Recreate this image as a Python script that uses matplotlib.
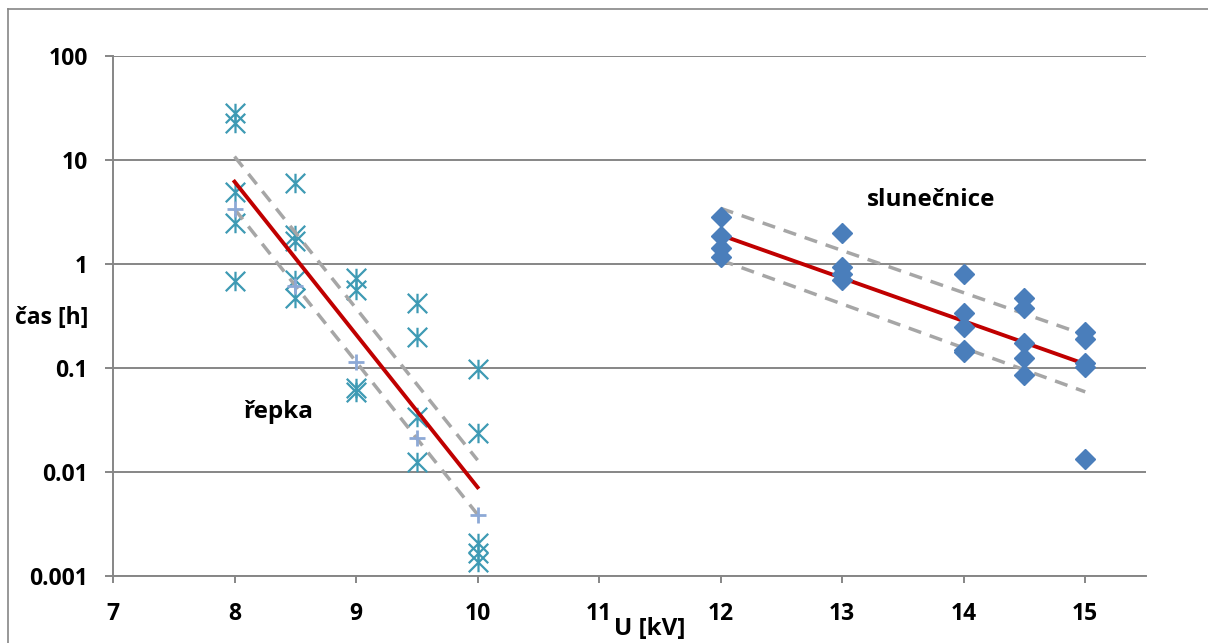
import matplotlib
matplotlib.use("Agg")
import matplotlib.pyplot as plt
from matplotlib.path import Path
from matplotlib.lines import Line2D
import numpy as np

# ---- data ----
repka_x = [8, 8, 8, 8, 8, 8.5, 8.5, 8.5, 8.5, 8.5, 9, 9, 9, 9,
           9.5, 9.5, 9.5, 9.5, 10, 10, 10, 10, 10]
repka_t = [28.1, 22.5, 4.96, 2.46, 0.69, 5.97, 1.90, 1.68, 0.70, 0.47,
           0.73, 0.56, 0.064, 0.059, 0.42, 0.197, 0.034, 0.0126,
           0.097, 0.0236, 0.00206, 0.00165, 0.00137]
repka_low_x = [8, 8.5, 9, 9.5, 10]
repka_low_t = [3.38, 0.62, 0.115, 0.021, 0.0039]
repka_fit_x = [8, 10]
repka_fit_t = [6.19, 0.00713]
repka_up_x = [8, 10]
repka_up_t = [10.8, 0.013]

slun_x = [12, 12, 12, 12, 13, 13, 13, 13, 14, 14, 14, 14, 14,
          14.5, 14.5, 14.5, 14.5, 14.5, 15, 15, 15, 15, 15]
slun_t = [2.85, 1.86, 1.42, 1.18, 2.0, 0.93, 0.81, 0.70,
          0.81, 0.336, 0.249, 0.149, 0.143,
          0.468, 0.375, 0.175, 0.124, 0.0857,
          0.223, 0.189, 0.111, 0.103, 0.0132]
slun_fit_x = [12, 15]
slun_fit_t = [1.90, 0.109]
slun_up_x = [12, 15]
slun_up_t = [3.43, 0.208]
slun_low_x = [12, 15]
slun_low_t = [1.09, 0.059]

x_ticks = [7, 8, 9, 10, 11, 12, 13, 14, 15]
y_ticks = [0.001, 0.01, 0.1, 1, 10, 100]
y_tick_labels = ["0.001", "0.01", "0.1", "1", "10", "100"]

FONT = "Open Sans"
GRID = "#868686"
TEAL = "#3E9AB4"
PLUS = "#8DA9D6"
DIAM = "#4A7EBB"
RED = "#C00000"
DASH = "#A6A6A6"

plt.rcParams["font.family"] = [FONT, "DejaVu Sans"]
plt.rcParams["font.weight"] = "bold"

fig = plt.figure(figsize=(12.08, 6.43), dpi=100)
ax = fig.add_axes([113 / 1208, 1 - 576 / 643, (1146 - 113) / 1208, (576 - 56) / 643])

ast = Path([(0, -1), (0, 1), (-1, -1), (1, 1), (-1, 1), (1, -1)],
           [Path.MOVETO, Path.LINETO, Path.MOVETO, Path.LINETO, Path.MOVETO, Path.LINETO])

ax.set_yscale("log")
ax.set_xlim(7, 15.5)
ax.set_ylim(0.001, 100)

for yv in y_ticks:
    ax.axhline(yv, color=GRID, lw=1.4, zorder=1)

ax.plot(repka_x, repka_t, ls="none", marker=ast, ms=14, mew=1.6,
        mec=TEAL, mfc="none", zorder=3)
ax.plot(repka_up_x, repka_up_t, color=DASH, lw=2.5, dashes=(3.8, 2.6), zorder=4)
ax.plot(repka_low_x, repka_low_t, color=DASH, lw=2.5, dashes=(3.8, 2.6), zorder=4)
ax.plot(repka_low_x, repka_low_t, ls="none", marker="+", ms=11, mew=2,
        mec=PLUS, zorder=5)
ax.plot(repka_fit_x, repka_fit_t, color=RED, lw=2.8, zorder=5)

ax.plot(slun_up_x, slun_up_t, color=DASH, lw=2.5, dashes=(3.8, 2.6), zorder=4)
ax.plot(slun_low_x, slun_low_t, color=DASH, lw=2.5, dashes=(3.8, 2.6), zorder=4)
ax.plot(slun_fit_x, slun_fit_t, color=RED, lw=2.8, zorder=5)
ax.plot(slun_x, slun_t, ls="none", marker="D", ms=10.5, mfc=DIAM, mec=DIAM,
        zorder=6)

ax.set_xticks(x_ticks)
ax.set_xticklabels([str(v) for v in x_ticks])
ax.set_yticks(y_ticks)
ax.set_yticklabels(y_tick_labels)
ax.yaxis.set_minor_locator(matplotlib.ticker.NullLocator())

for s in ["top", "right"]:
    ax.spines[s].set_visible(False)
for s in ["left", "bottom"]:
    ax.spines[s].set_color(GRID)
    ax.spines[s].set_linewidth(1.4)

ax.tick_params(axis="x", direction="out", length=5, width=1.4, color=GRID,
               pad=14, labelsize=16.5)
ax.tick_params(axis="y", direction="out", length=6, width=1.4, color=GRID,
               pad=12, labelsize=16.5)
for lab in ax.get_xticklabels() + ax.get_yticklabels():
    lab.set_fontweight("bold")

ax.text(8.357, 0.0378, "řepka", ha="center", va="center", fontsize=17.5,
        fontweight="bold")
ax.text(13.73, 4.12, "slunečnice", ha="center", va="center", fontsize=17.5,
        fontweight="bold")

fig.text(52 / 1208, 1 - 318 / 643, "čas [h]", ha="center", va="center",
         fontsize=16.5, fontweight="bold")
fig.text(650 / 1208, 1 - 629 / 643, "U [kV]", ha="center", va="center",
         fontsize=17.5, fontweight="bold")

# outer frame (top and left edges visible)
fig.add_artist(Line2D([8 / 1208, 1], [1 - 9 / 643, 1 - 9 / 643],
                      transform=fig.transFigure, color=GRID, lw=1.2))
fig.add_artist(Line2D([8 / 1208, 8 / 1208], [0, 1 - 9 / 643],
                      transform=fig.transFigure, color=GRID, lw=1.2))

fig.savefig("out.png", dpi=100)
